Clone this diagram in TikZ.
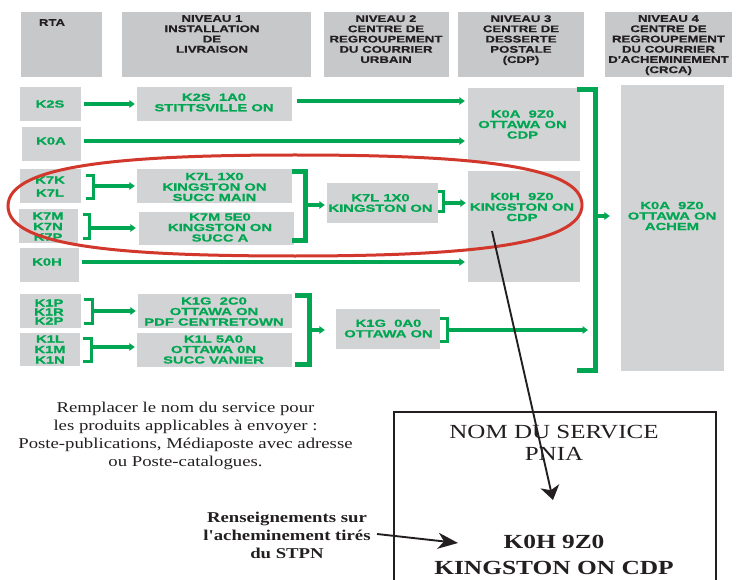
\documentclass[tikz,border=0pt]{standalone}
\usepackage{fontspec}
\setmainfont{Liberation Serif}
\newfontfamily\hdrfont[FakeStretch=1.36,FakeBold=0.6]{Liberation Sans}
\newfontfamily\boxfont[FakeStretch=1.45,FakeBold=0.9]{Liberation Sans}
\newfontfamily\serifx[FakeStretch=1.25]{Liberation Serif}
\newfontfamily\serifw[FakeStretch=1.27]{Liberation Serif}
\usetikzlibrary{arrows.meta,fit}
\definecolor{gr}{RGB}{0,166,81}
\definecolor{bxgrey}{RGB}{209,211,212}
\definecolor{hdgrey}{RGB}{199,200,202}
\definecolor{ink}{RGB}{35,31,32}
\definecolor{ovalred}{RGB}{210,55,43}
\begin{document}
\begin{tikzpicture}[x=1pt,y=-1pt,
 hbox/.style={fill=hdgrey, inner sep=0pt},
 rbox/.style={fill=bxgrey, inner sep=0pt},
 htxt/.style={anchor=north, inner sep=0pt, align=center, text=ink, font=\hdrfont\bfseries\fontsize{9.7}{10.25}\selectfont},
 gtxt/.style={inner sep=0pt, align=center, text=gr, font=\boxfont\bfseries\fontsize{10.2}{10.5}\selectfont},
 garrow/.style={draw=gr, line width=3.2pt, -{Triangle[length=5.5pt,width=7.5pt]}},
 sbrk/.style={draw=gr, line width=3.4pt},
 bbrk/.style={draw=gr, line width=5pt},
 karrowv/.style={draw=ink, line width=1.9pt, -{Stealth[length=14pt,width=19pt,inset=4pt]}},
 karrowh/.style={draw=ink, line width=1.9pt, -{Stealth[length=20pt,width=16pt,inset=6pt]}},
 stxt/.style={anchor=north, inner sep=0pt, align=center, text=ink},
]
\useasboundingbox (0,0) rectangle (736,580);

% header boxes
\node[hbox, fit={(21,12)(102,77)}] (hRTA) {};
\node[hbox, fit={(122,12)(311,77)}] (hN1) {};
\node[hbox, fit={(324,12)(449,77)}] (hN2) {};
\node[hbox, fit={(458,12)(584,77)}] (hN3) {};
\node[hbox, fit={(605,12)(732,77)}] (hN4) {};
\node[htxt] (tRTA) at (52,19) {RTA};
\node[htxt] (tN1) at (212,15) {NIVEAU 1\\INSTALLATION\\DE\\LIVRAISON};
\node[htxt] (tN2) at (386,15) {NIVEAU 2\\CENTRE DE\\REGROUPEMENT\\DU COURRIER\\URBAIN};
\node[htxt] (tN3) at (521,15) {NIVEAU 3\\CENTRE DE\\DESSERTE\\POSTALE\\(CDP)};
\node[htxt] (tN4) at (668.5,15) {NIVEAU 4\\CENTRE DE\\REGROUPEMENT\\DU COURRIER\\D'ACHEMINEMENT\\(CRCA)};

% row boxes
\node[rbox, fit={(20,87)(81,121)}] (bK2S) {};
\node[rbox, fit={(22,127)(81,161)}] (bK0A) {};
\node[rbox, fit={(20,169)(81,203)}] (bK7K) {};
\node[rbox, fit={(19,209)(78,243)}] (bK7M) {};
\node[rbox, fit={(20,248)(79,282)}] (bK0H) {};
\node[rbox, fit={(20,294)(81,328)}] (bK1P) {};
\node[rbox, fit={(20,333)(80,366)}] (bK1L) {};
\node[rbox, fit={(137,87)(292,121)}] (bK2S1) {};
\node[rbox, fit={(137,169)(292,203)}] (bK7L1) {};
\node[rbox, fit={(139,212)(294,245)}] (bK7M1) {};
\node[rbox, fit={(138,294)(292,328)}] (bK1G1) {};
\node[rbox, fit={(137,333)(292,367)}] (bK1L1) {};
\node[rbox, fit={(327,183)(438,223)}] (bK7L2) {};
\node[rbox, fit={(336,309)(440,349)}] (bK1G2) {};
\node[rbox, fit={(468,88)(580,161)}] (bK0A3) {};
\node[rbox, fit={(468,171)(580,282)}] (bK0H3) {};
\node[rbox, fit={(621,85)(724,371)}] (bK0A4) {};

% row texts
\node[gtxt] (xK2S) at (50,104) {K2S};
\node[gtxt] (xK0A) at (51,141) {K0A};
\node[gtxt] (xK7K) at (50,186.5) {K7K\\[2.5pt]K7L};
\node[gtxt] (xK7M) at (48,226.5) {K7M\\K7N\\K7P};
\node[gtxt] (xK0H) at (47,262) {K0H};
\node[gtxt] (xK1P) at (49,312) {K1P\\[-1.5pt]K1R\\[-1.5pt]K2P};
\node[gtxt] (xK1L) at (50,349.5) {K1L\\K1M\\K1N};
\node[gtxt] (xK2S1) at (214,102.5) {K2S\ \ 1A0\\STITTSVILLE ON};
\node[gtxt] (xK7L1) at (214.5,187) {K7L 1X0\\KINGSTON ON\\SUCC MAIN};
\node[gtxt] (xK7M1) at (220,227.5) {K7M 5E0\\KINGSTON ON\\SUCC A};
\node[gtxt] (xK1G1) at (214,311.5) {K1G\ \ 2C0\\OTTAWA ON\\PDF CENTRETOWN};
\node[gtxt] (xK1L1) at (213.5,349.5) {K1L 5A0\\OTTAWA 0N\\SUCC VANIER};
\node[gtxt] (xK7L2) at (380.5,203) {K7L 1X0\\KINGSTON ON};
\node[gtxt] (xK1G2) at (388.5,328.5) {K1G\ \ 0A0\\OTTAWA ON};
\node[gtxt] (xK0A3) at (522.5,124.5) {K0A\ \ 9Z0\\OTTAWA ON\\CDP};
\node[gtxt] (xK0H3) at (522,207) {K0H\ \ 9Z0\\KINGSTON ON\\CDP};
\node[gtxt] (xK0A4) at (672,216) {K0A\ \ 9Z0\\OTTAWA ON\\ACHEM};

% direct green connectors
\draw[garrow, shorten <=3pt, shorten >=2pt] (bK2S.east) -- (bK2S.east -| bK2S1.west);
\draw[garrow, shorten <=5pt, shorten >=3pt] ([yshift=3pt]bK2S1.east) -- ([yshift=3pt]bK2S1.east -| bK0A3.west);
\draw[garrow, shorten <=3pt, shorten >=3pt] ([yshift=3pt]bK0A.east) -- ([yshift=3pt]bK0A.east -| bK0A3.west);
\draw[garrow, shorten <=3pt, shorten >=3pt] ([yshift=3pt]bK0H.east) -- ([yshift=3pt]bK0H.east -| bK0H3.west);

% brackets and their arrows
\draw[sbrk] (86,175.5) -- (93.5,175.5) -- (93.5,198.5) -- (86,198.5);
\coordinate (qA) at (95,186);
\draw[garrow, shorten >=2pt] (qA) -- (qA -| bK7L1.west);

\draw[sbrk] (83,214.5) -- (89.5,214.5) -- (89.5,238.5) -- (83,238.5);
\coordinate (qB) at (91,228);
\draw[garrow, shorten >=3pt] (qB) -- (qB -| bK7M1.west);

\draw[bbrk] (292,171.5) -- (305.5,171.5) -- (305.5,240.5) -- (292,240.5);
\coordinate (qC) at (308,205);
\draw[garrow, shorten >=2pt] (qC) -- (qC -| bK7L2.west);

\draw[sbrk] (438,191.5) -- (443.5,191.5) -- (443.5,211.5) -- (438,211.5);
\coordinate (qD) at (445,203);
\draw[garrow, shorten >=2pt] (qD) -- (qD -| bK0H3.west);

\draw[sbrk] (84,299.5) -- (92.5,299.5) -- (92.5,323.5) -- (84,323.5);
\coordinate (qE) at (94,311);
\draw[garrow, shorten >=2pt] (qE) -- (qE -| bK1G1.west);

\draw[sbrk] (83,338.5) -- (91.5,338.5) -- (91.5,361.5) -- (83,361.5);
\coordinate (qF) at (93,347);
\draw[garrow, shorten >=2pt] (qF) -- (qF -| bK1L1.west);

\draw[bbrk] (295,295.5) -- (309.5,295.5) -- (309.5,364.5) -- (295,364.5);
\coordinate (qG) at (312,330);
\draw[garrow, shorten >=11pt] (qG) -- (qG -| bK1G2.west);

\draw[sbrk] (440,318.5) -- (447.5,318.5) -- (447.5,341.5) -- (440,341.5);
\coordinate (qH) at (449,330);
\coordinate (qH2) at (588,330);
\draw[garrow] (qH) -- (qH2);

\draw[bbrk] (577,89.5) -- (595.5,89.5) -- (595.5,370.5) -- (577,370.5);
\coordinate (qI) at (598,216);
\draw[garrow, shorten >=11pt] (qI) -- (qI -| bK0A4.west);

% red oval
\draw[ovalred, line width=3pt] (8,206) .. controls (8,165) and (122.8,155) .. (295,155)
  .. controls (467.2,155) and (582,165) .. (582,205)
  .. controls (582,245) and (467.2,256) .. (295,256)
  .. controls (122.8,256) and (8,247) .. (8,206) -- cycle;

% bottom notes
\node[stxt, font=\serifx\fontsize{15}{18}\selectfont] (tRemp) at (185.5,401.5)
  {Remplacer le nom du service pour\\les produits applicables à envoyer :\\Poste-publications, Médiaposte avec adresse\\ou Poste-catalogues.};
\node[stxt, font=\serifx\bfseries\fontsize{15}{18}\selectfont] (tRens) at (287,511.5)
  {Renseignements sur\\l'acheminement tirés\\du STPN};

% bottom box
\node[draw=ink, line width=2pt, inner sep=0pt, fit={(394,412)(716,595)}] (bNom) {};
\node[stxt, font=\serifx\fontsize{20}{21.7}\selectfont] (tNom) at (554,425) {NOM DU SERVICE\\PNIA};
\node[stxt, font=\serifw\bfseries\fontsize{20}{25.7}\selectfont] (tK0H) at (554,535) {K0H 9Z0\\KINGSTON ON CDP};

% black arrows
\coordinate (kS) at (492,231);
\coordinate (kE) at (553,500);
\draw[karrowv] (kS) -- (kE);
\coordinate (rS) at (377,534);
\coordinate (rE) at (458,543);
\draw[karrowh] (rS) -- (rE);
\end{tikzpicture}
\end{document}
